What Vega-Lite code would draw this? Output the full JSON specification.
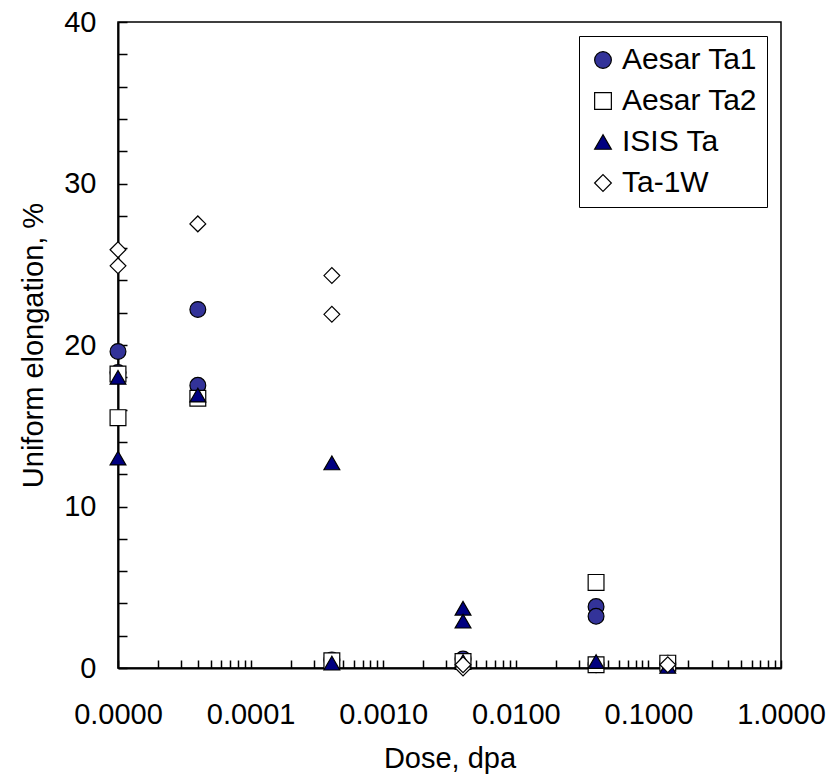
{
  "$schema": "https://vega.github.io/schema/vega-lite/v6.json",
  "autosize": "none",
  "width": 663,
  "height": 646,
  "padding": {"left": 118, "top": 22, "right": 49, "bottom": 108},
  "background": "white",
  "config": {
    "font": "Liberation Sans",
    "view": {"stroke": "black", "strokeWidth": 1.5}
  },
  "data": {
    "values": [
      {"series": "Aesar Ta1", "dose": 0.00001, "elong": 19.6},
      {"series": "Aesar Ta1", "dose": 0.00001, "elong": 18.3},
      {"series": "Aesar Ta1", "dose": 0.00004, "elong": 22.2},
      {"series": "Aesar Ta1", "dose": 0.00004, "elong": 17.5},
      {"series": "Aesar Ta1", "dose": 0.00041, "elong": 0.5},
      {"series": "Aesar Ta1", "dose": 0.004, "elong": 0.55},
      {"series": "Aesar Ta1", "dose": 0.0403, "elong": 3.8},
      {"series": "Aesar Ta1", "dose": 0.0403, "elong": 3.2},
      {"series": "Aesar Ta1", "dose": 0.0403, "elong": 0.2},
      {"series": "Aesar Ta1", "dose": 0.14, "elong": 0.3},
      {"series": "Aesar Ta2", "dose": 0.00001, "elong": 18.2},
      {"series": "Aesar Ta2", "dose": 0.00001, "elong": 15.5},
      {"series": "Aesar Ta2", "dose": 0.00004, "elong": 16.7},
      {"series": "Aesar Ta2", "dose": 0.00041, "elong": 0.45},
      {"series": "Aesar Ta2", "dose": 0.004, "elong": 0.4},
      {"series": "Aesar Ta2", "dose": 0.0403, "elong": 5.3},
      {"series": "Aesar Ta2", "dose": 0.0403, "elong": 0.2},
      {"series": "Aesar Ta2", "dose": 0.14, "elong": 0.3},
      {"series": "ISIS Ta", "dose": 0.00001, "elong": 18.0},
      {"series": "ISIS Ta", "dose": 0.00001, "elong": 13.0},
      {"series": "ISIS Ta", "dose": 0.00004, "elong": 16.9},
      {"series": "ISIS Ta", "dose": 0.00041, "elong": 12.7},
      {"series": "ISIS Ta", "dose": 0.00041, "elong": 0.3},
      {"series": "ISIS Ta", "dose": 0.004, "elong": 3.7},
      {"series": "ISIS Ta", "dose": 0.004, "elong": 2.9},
      {"series": "ISIS Ta", "dose": 0.004, "elong": 0.4},
      {"series": "ISIS Ta", "dose": 0.0403, "elong": 0.4},
      {"series": "ISIS Ta", "dose": 0.14, "elong": 0.1},
      {"series": "Ta-1W", "dose": 0.00001, "elong": 25.9},
      {"series": "Ta-1W", "dose": 0.00001, "elong": 24.9},
      {"series": "Ta-1W", "dose": 0.00004, "elong": 27.5},
      {"series": "Ta-1W", "dose": 0.00041, "elong": 24.3},
      {"series": "Ta-1W", "dose": 0.00041, "elong": 21.9},
      {"series": "Ta-1W", "dose": 0.004, "elong": 0.0},
      {"series": "Ta-1W", "dose": 0.004, "elong": 0.2},
      {"series": "Ta-1W", "dose": 0.14, "elong": 0.2}
    ]
  },
  "mark": {"type": "point", "filled": true, "size": 250, "stroke": "black", "strokeWidth": 1.2, "opacity": 1},
  "encoding": {
    "x": {
      "field": "dose",
      "type": "quantitative",
      "scale": {"type": "log", "domain": [0.00001, 1], "nice": false},
      "axis": {
        "title": "Dose, dpa",
        "values": [0.00001,0.00002,0.00003,0.00004,0.00005,0.00006,0.00007,0.00008,0.00009,
                   0.0001,0.0002,0.0003,0.0004,0.0005,0.0006,0.0007,0.0008,0.0009,
                   0.001,0.002,0.003,0.004,0.005,0.006,0.007,0.008,0.009,
                   0.01,0.02,0.03,0.04,0.05,0.06,0.07,0.08,0.09,
                   0.1,0.2,0.3,0.4,0.5,0.6,0.7,0.8,0.9,1],
        "labelExpr": "abs(log(datum.value)/LN10 - round(log(datum.value)/LN10)) < 0.000001 ? format(datum.value, '.4f') : ''",
        "grid": false,
        "tickSize": -8,
        "tickWidth": 1.5,
        "tickColor": "black",
        "domainColor": "black",
        "domainWidth": 2,
        "labelFont": "Liberation Sans",
        "labelFontSize": 29,
        "labelColor": "black",
        "labelPadding": 40,
        "labelFlush": false,
        "labelOverlap": false,
        "labelBound": false,
        "titleFont": "Liberation Sans",
        "titleFontSize": 29,
        "titleFontWeight": "normal",
        "titleColor": "black",
        "titlePadding": 15
      }
    },
    "y": {
      "field": "elong",
      "type": "quantitative",
      "scale": {"domain": [0, 40], "nice": false, "zero": true},
      "axis": {
        "title": "Uniform elongation, %",
        "values": [0,2,4,6,8,10,12,14,16,18,20,22,24,26,28,30,32,34,36,38,40],
        "labelExpr": "datum.value % 10 === 0 ? datum.label : ''",
        "grid": false,
        "tickSize": -9,
        "tickWidth": 1.5,
        "tickColor": "black",
        "domainColor": "black",
        "domainWidth": 2,
        "labelFont": "Liberation Sans",
        "labelFontSize": 29,
        "labelColor": "black",
        "labelPadding": 31,
        "labelOverlap": false,
        "labelFlush": false,
        "labelBound": false,
        "titleFont": "Liberation Sans",
        "titleFontSize": 29,
        "titleFontWeight": "normal",
        "titleColor": "black",
        "titlePadding": 15
      }
    },
    "color": {
      "field": "series",
      "type": "nominal",
      "scale": {"domain": ["Aesar Ta1", "Aesar Ta2", "ISIS Ta", "Ta-1W"], "range": ["#333399", "#ffffff", "#000080", "#ffffff"]},
      "legend": {
        "title": null,
        "orient": "none",
        "legendX": 461,
        "legendY": 14,
        "direction": "vertical",
        "fillColor": "white",
        "strokeColor": "black",
        "padding": 9,
        "labelFont": "Liberation Sans",
        "labelFontSize": 30,
        "labelColor": "black",
        "labelOffset": 4,
        "rowPadding": 11,
        "symbolSize": 280,
        "symbolStrokeColor": "black",
        "symbolStrokeWidth": 1.2
      }
    },
    "shape": {
      "field": "series",
      "type": "nominal",
      "scale": {"domain": ["Aesar Ta1", "Aesar Ta2", "ISIS Ta", "Ta-1W"], "range": ["circle", "square", "triangle-up", "diamond"]},
      "legend": {
        "title": null,
        "orient": "none",
        "legendX": 461,
        "legendY": 14,
        "direction": "vertical",
        "fillColor": "white",
        "strokeColor": "black",
        "padding": 9,
        "labelFont": "Liberation Sans",
        "labelFontSize": 30,
        "labelColor": "black",
        "labelOffset": 4,
        "rowPadding": 11,
        "symbolSize": 280,
        "symbolStrokeColor": "black",
        "symbolStrokeWidth": 1.2
      }
    }
  }
}
